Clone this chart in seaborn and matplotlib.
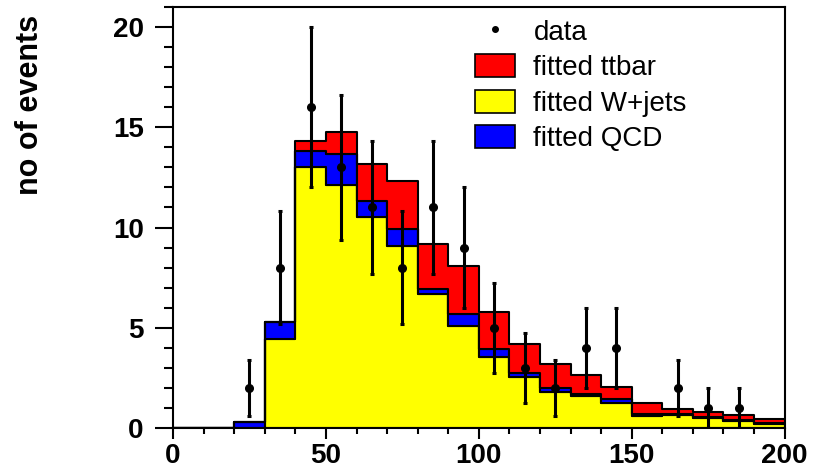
import numpy as np
import pandas as pd
import matplotlib
matplotlib.use("Agg")
import matplotlib.pyplot as plt
from matplotlib.patches import Patch
from matplotlib.lines import Line2D
from matplotlib.ticker import MultipleLocator
import seaborn as sns

# ---- data (bins of width 10 from 0 to 200) ----
bin_edges = list(range(0, 210, 10))
bin_centers = [5, 15, 25, 35, 45, 55, 65, 75, 85, 95,
               105, 115, 125, 135, 145, 155, 165, 175, 185, 195]

wjets = [0, 0, 0, 4.45, 13.0, 12.1, 10.55, 9.1, 6.67, 5.08,
         3.54, 2.54, 1.79, 1.59, 1.23, 0.59, 0.67, 0.50, 0.37, 0.22]
qcd = [0, 0, 0.28, 0.83, 0.83, 1.57, 0.75, 0.85, 0.28, 0.63,
       0.39, 0.22, 0.22, 0.09, 0.23, 0.09, 0.03, 0.04, 0.02, 0.01]
ttbar = [0, 0, 0, 0, 0.47, 1.11, 1.87, 2.38, 2.25, 2.37,
         1.86, 1.45, 1.17, 0.94, 0.60, 0.55, 0.27, 0.27, 0.24, 0.20]

data_x = [25, 35, 45, 55, 65, 75, 85, 95, 105, 115, 125, 135, 145, 165, 175, 185]
data_y = [2, 8, 16, 13, 11, 8, 11, 9, 5, 3, 2, 4, 4, 2, 1, 1]
data_err = [1.41, 2.83, 4.0, 3.61, 3.32, 2.83, 3.32, 3.0,
            2.24, 1.73, 1.41, 2.0, 2.0, 1.41, 1.0, 1.0]

RED = "#FF0000"
YELLOW = "#FFFF00"
BLUE = "#0000FF"

sns.set_style("white")
plt.rcParams.update({
    "font.family": ["Liberation Sans", "DejaVu Sans"],
    "text.color": "black",
    "axes.labelcolor": "black",
    "xtick.color": "black",
    "ytick.color": "black",
})

# long table for the stacked histogram
df = pd.concat([
    pd.DataFrame({"x": bin_centers, "w": ttbar, "proc": "ttbar"}),
    pd.DataFrame({"x": bin_centers, "w": qcd, "proc": "QCD"}),
    pd.DataFrame({"x": bin_centers, "w": wjets, "proc": "W+jets"}),
], ignore_index=True)

fig = plt.figure(figsize=(8.22, 4.68), dpi=100)
ax = fig.add_axes([0.2105, 0.0855, 0.7440, 0.8995])

# first hue level ends up on top of the stack
sns.histplot(data=df, x="x", weights="w", hue="proc",
             hue_order=["ttbar", "QCD", "W+jets"],
             palette={"ttbar": RED, "QCD": BLUE, "W+jets": YELLOW},
             bins=bin_edges, multiple="stack", element="step",
             alpha=1, edgecolor="black", linewidth=1.5,
             legend=False, ax=ax)

ax.errorbar(data_x, data_y, yerr=data_err, fmt="o", color="black",
            ms=5.5, elinewidth=2.2, capsize=1.5, capthick=2.2, zorder=5)

ax.set_xlim(0, 200)
ax.set_ylim(0, 21)
ax.xaxis.set_major_locator(MultipleLocator(50))
ax.xaxis.set_minor_locator(MultipleLocator(10))
ax.yaxis.set_major_locator(MultipleLocator(5))
ax.yaxis.set_minor_locator(MultipleLocator(1))
ax.tick_params(which="both", bottom=True, left=True, top=False, right=False,
               colors="black")
ax.tick_params(axis="x", which="major", direction="out", length=8, width=1.5,
               labelsize=20, pad=3)
ax.tick_params(axis="x", which="minor", direction="out", length=4, width=1.5)
ax.tick_params(axis="y", which="major", direction="out", length=13, width=1.5,
               labelsize=20, pad=8)
ax.tick_params(axis="y", which="minor", direction="out", length=6.5, width=1.5)
for lab in ax.get_xticklabels() + ax.get_yticklabels():
    lab.set_fontweight("bold")

for sp in ax.spines.values():
    sp.set_linewidth(1.5)
    sp.set_color("black")

ax.set_xlabel("")
ax.set_ylabel("no of events", fontsize=22, fontweight="bold", loc="top")
ax.yaxis.set_label_coords(-0.21, 0.981)

handles = [
    Line2D([], [], marker="o", color="black", ls="none", ms=4),
    Patch(facecolor=RED, edgecolor="black", linewidth=1.2),
    Patch(facecolor=YELLOW, edgecolor="black", linewidth=1.2),
    Patch(facecolor=BLUE, edgecolor="black", linewidth=1.2),
]
labels = ["data", "fitted ttbar", "fitted W+jets", "fitted QCD"]
ax.legend(handles, labels, loc="upper left", bbox_to_anchor=(0.494, 0.972),
          frameon=False, fontsize=20, borderpad=0, borderaxespad=0,
          handlelength=1.45, handleheight=0.9, handletextpad=0.65,
          labelspacing=0.3)

fig.savefig("out.png", dpi=100)
